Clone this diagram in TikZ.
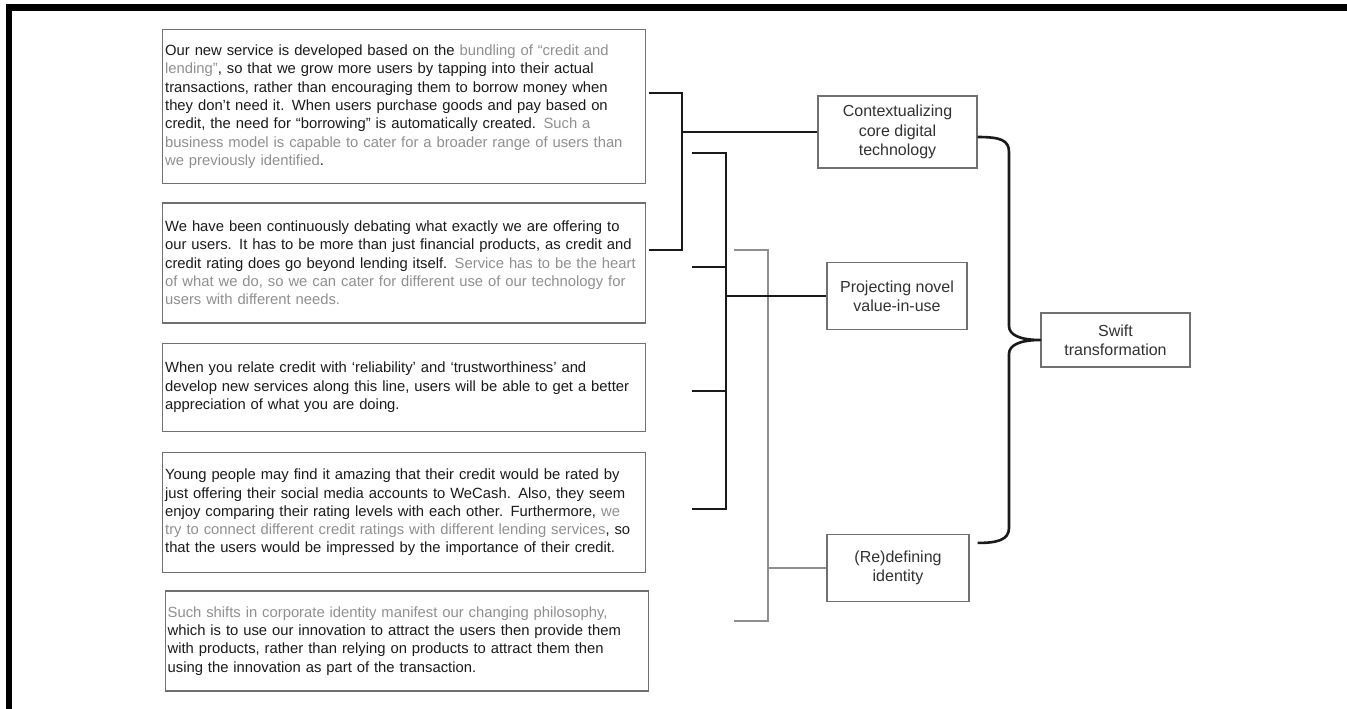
\documentclass[tikz,border=0pt]{standalone}
\usepackage{fontspec}
\setmainfont{Liberation Sans}
\usepackage{xcolor}
\usetikzlibrary{positioning,calc}
\definecolor{ink}{HTML}{1A1A1A}
\definecolor{faint}{HTML}{8F8F8F}
\definecolor{rim}{HTML}{707070}
\newcommand{\soft}[1]{\textcolor{faint}{#1}}

\begin{document}
\begin{tikzpicture}[
    x=1pt,y=-1pt,
    node distance=18pt,
    quotebox/.style={rectangle,draw=rim,line width=1.3pt,minimum width=483pt,
                     text width=478pt,inner xsep=2.5pt,align=left,text=ink,
                     font=\fontsize{14.8}{18.3}\selectfont},
    themebox/.style={rectangle,draw=rim,line width=1.2pt,align=center,text=ink!90,
                     font=\fontsize{16}{19.2}\selectfont},
    spine/.style={line width=2.8pt,draw=ink},
    greyspine/.style={line width=2.4pt,draw=faint}
]
\useasboundingbox (0,0) rectangle (1347,709);
\draw[line width=6.5pt] (9,709) -- (9,7.5) -- (1347,7.5);

\node[quotebox,minimum height=154pt,anchor=north west] (q1) at (162,29)
  {Our new service is developed based on the \soft{bundling of “credit and}\\
   \soft{lending”}, so that we grow more users by tapping into their actual\\
   transactions, rather than encouraging them to borrow money when\\
   they don’t need it. When users purchase goods and pay based on\\
   credit, the need for “borrowing” is automatically created. \soft{Such a}\\
   \soft{business model is capable to cater for a broader range of users than}\\
   \soft{we previously identified}.};
\node[quotebox,minimum height=120pt,below=18pt of q1] (q2)
  {We have been continuously debating what exactly we are offering to\\
   our users. It has to be more than just financial products, as credit and\\
   credit rating does go beyond lending itself. \soft{Service has to be the heart}\\
   \soft{of what we do, so we can cater for different use of our technology for}\\
   \soft{users with different needs.}};
\node[quotebox,minimum height=88pt,below=19pt of q2] (q3)
  {When you relate credit with ‘reliability’ and ‘trustworthiness’ and\\
   develop new services along this line, users will be able to get a better\\
   appreciation of what you are doing.};
\node[quotebox,minimum height=120pt,below=20pt of q3] (q4)
  {Young people may find it amazing that their credit would be rated by\\
   just offering their social media accounts to WeCash. Also, they seem\\
   enjoy comparing their rating levels with each other. Furthermore, \soft{we}\\
   \soft{try to connect different credit ratings with different lending services}, so\\
   that the users would be impressed by the importance of their credit.};
\node[quotebox,minimum height=100pt,minimum width=480pt,below=17pt of q4,xshift=2.5pt] (q5)
  {\soft{Such shifts in corporate identity manifest our changing philosophy,}\\
   which is to use our innovation to attract the users then provide them\\
   with products, rather than relying on products to attract them then\\
   using the innovation as part of the transaction.};

\node[themebox,minimum width=159pt,minimum height=72pt] (ctx) at (897.5,132)
  {Contextualizing\\core digital\\technology};
\node[themebox,minimum width=140pt,minimum height=67pt] (proj) at (897,296)
  {Projecting novel\\value-in-use};
\node[themebox,minimum width=142pt,minimum height=67pt] (redef) at (898,568)
  {(Re)defining\\identity};
\node[themebox,minimum width=149pt,minimum height=54pt] (swift) at (1115.5,340)
  {Swift\\transformation};

\coordinate (a1) at (649,93);
\coordinate (a2) at (649,250);
\coordinate (j1) at (682,132);
\coordinate (c1) at (692,153);
\coordinate (c2) at (692,267);
\coordinate (c3) at (692,391);
\coordinate (c4) at (692,509);
\coordinate (j2) at (726,296);
\coordinate (d1) at (734,250);
\coordinate (d2) at (734,621);
\coordinate (j3) at (768,568);
\coordinate (e1) at ([yshift=-5pt]ctx.east);
\coordinate (e2) at ([shift={(8pt,-9pt)}]redef.north east);

\draw[greyspine] (d1) -| (j3) |- (d2);
\draw[greyspine] (j3) -- (redef);
\draw[spine] (a1) -| (j1) |- (a2);
\draw[spine] (j1) -- (ctx);
\draw[spine] (c1) -| (j2) |- (c4);
\draw[spine] (c2) -- (c2 -| j2);
\draw[spine] (c3) -- (c3 -| j2);
\draw[spine] (j2) -- (proj);
\draw[spine,line width=2.6pt,line join=round] (e1) .. controls (1000,137) and (1009,140) .. (1009,152)
  -- (1009,326) .. controls (1009,335) and (1020,340) .. (swift.west)
  .. controls (1020,340) and (1009,345) .. (1009,354)
  -- (1009,528) .. controls (1009,540) and (997,543) .. (e2);
\end{tikzpicture}
\end{document}
